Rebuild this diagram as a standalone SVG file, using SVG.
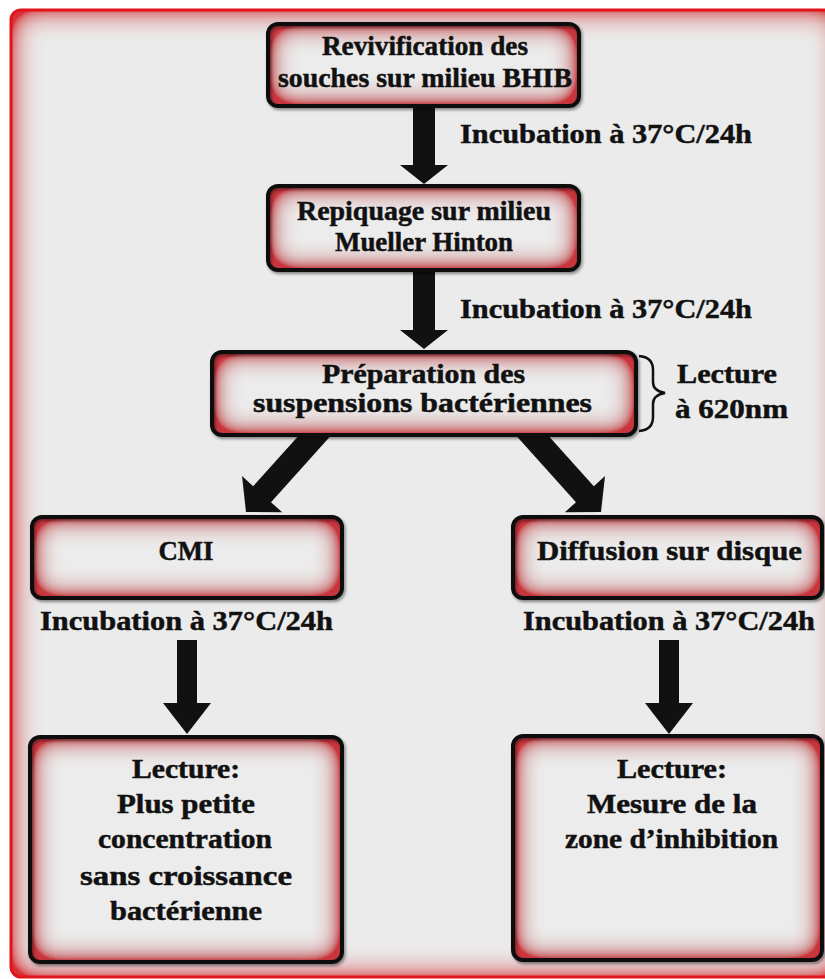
<svg xmlns="http://www.w3.org/2000/svg" width="825" height="979" viewBox="0 0 825 979">
  <defs>
    <style>
      .t { font-family: "Liberation Serif", "DejaVu Serif", serif; font-weight: bold; font-size: 28px; fill: #111; stroke: #111; stroke-width: 0.5; }
      .m { text-anchor: middle; }
      .border { fill: none; stroke: #111; stroke-width: 4; }
      .arrow { fill: #111; }
    </style>
    <!-- inner red glow for the step boxes -->
    <filter id="nodeGlow" x="-25%" y="-80%" width="150%" height="260%">
      <feComponentTransfer in="SourceAlpha" result="inv">
        <feFuncA type="table" tableValues="1 0"/>
      </feComponentTransfer>
      <feGaussianBlur in="inv" stdDeviation="14" result="blur"/>
      <feComponentTransfer in="blur" result="boost">
        <feFuncA type="linear" slope="2.2"/>
      </feComponentTransfer>
      <feFlood flood-color="#c8343c" result="red"/>
      <feComposite in="red" in2="boost" operator="in" result="redBlur"/>
      <feComposite in="redBlur" in2="SourceAlpha" operator="in" result="glow"/>
      <feMerge>
        <feMergeNode in="SourceGraphic"/>
        <feMergeNode in="glow"/>
      </feMerge>
    </filter>
    <!-- softer glow for the outer frame -->
    <filter id="frameGlow" x="-10%" y="-10%" width="120%" height="120%">
      <feComponentTransfer in="SourceAlpha" result="inv">
        <feFuncA type="table" tableValues="1 0"/>
      </feComponentTransfer>
      <feGaussianBlur in="inv" stdDeviation="15" result="blur"/>
      <feComponentTransfer in="blur" result="boost">
        <feFuncA type="linear" slope="1.8"/>
      </feComponentTransfer>
      <feFlood flood-color="#d83038" result="red"/>
      <feComposite in="red" in2="boost" operator="in" result="redBlur"/>
      <feComposite in="redBlur" in2="SourceAlpha" operator="in" result="glow"/>
      <feMerge>
        <feMergeNode in="SourceGraphic"/>
        <feMergeNode in="glow"/>
      </feMerge>
    </filter>
    <filter id="shadow" x="-10%" y="-10%" width="120%" height="130%">
      <feDropShadow dx="1.5" dy="2" stdDeviation="1.5" flood-color="#000" flood-opacity="0.45"/>
    </filter>
  </defs>

  <rect width="825" height="979" fill="#ffffff"/>

  <!-- outer frame -->
  <g id="frame">
    <rect x="11" y="10" width="830" height="967" rx="10" fill="#ebebeb" filter="url(#frameGlow)"/>
    <rect x="11" y="10" width="830" height="967" rx="10" fill="none" stroke="#e0141a" stroke-width="3"/>
  </g>

  <!-- connectors -->
  <g id="connectors">
    <polygon class="arrow" points="413,104 435,104 435,165 448,165 424,184 400,165 413,165"/>
    <polygon class="arrow" points="413,268 435,268 435,330 448,330 424,349 400,330 413,330"/>
    <polygon class="arrow" points="332.3,434.1 271,502.2 282.2,512.3 246,512 242,476.1 253.2,486.2 314.5,418.1"/>
    <polygon class="arrow" points="514.7,434.1 576,502.2 564.8,512.3 601,512 605,476.1 593.8,486.2 532.5,418.1"/>
    <polygon class="arrow" points="177,640 197,640 197,703 211,703 187,734 163,703 177,703"/>
    <polygon class="arrow" points="659,640 679,640 679,703 693,703 669,734 645,703 659,703"/>
    <path d="M639,356 Q653,357 653,370 L653,382 Q653,391 665,393 Q653,395 653,404 L653,417 Q653,430 639,431" fill="none" stroke="#111" stroke-width="2.5"/>
  </g>

  <!-- step boxes -->
  <g id="revivification">
    <rect x="268" y="24" width="311" height="82" rx="10" fill="#ececec" filter="url(#nodeGlow)"/>
    <rect class="border" x="268" y="24" width="311" height="82" rx="10" filter="url(#shadow)"/>
    <text class="t m" x="425" y="55" textLength="206" lengthAdjust="spacingAndGlyphs">Revivification des</text>
    <text class="t m" x="425" y="87" textLength="294" lengthAdjust="spacingAndGlyphs">souches sur milieu BHIB</text>
  </g>

  <g id="label-incubation-1">
    <text class="t" x="460" y="143" textLength="292" lengthAdjust="spacingAndGlyphs">Incubation à 37°C/24h</text>
  </g>

  <g id="repiquage">
    <rect x="268" y="186" width="311" height="84" rx="10" fill="#ececec" filter="url(#nodeGlow)"/>
    <rect class="border" x="268" y="186" width="311" height="84" rx="10" filter="url(#shadow)"/>
    <text class="t m" x="424" y="220" textLength="254" lengthAdjust="spacingAndGlyphs">Repiquage sur milieu</text>
    <text class="t m" x="424" y="251" textLength="178" lengthAdjust="spacingAndGlyphs">Mueller Hinton</text>
  </g>

  <g id="label-incubation-2">
    <text class="t" x="460" y="318" textLength="292" lengthAdjust="spacingAndGlyphs">Incubation à 37°C/24h</text>
  </g>

  <g id="preparation">
    <rect x="212" y="352" width="424" height="83" rx="10" fill="#ececec" filter="url(#nodeGlow)"/>
    <rect class="border" x="212" y="352" width="424" height="83" rx="10" filter="url(#shadow)"/>
    <text class="t m" x="423.5" y="383" textLength="203" lengthAdjust="spacingAndGlyphs">Préparation des</text>
    <text class="t m" x="422.5" y="412" textLength="339" lengthAdjust="spacingAndGlyphs">suspensions bactériennes</text>
  </g>

  <g id="label-lecture-620">
    <text class="t" x="677" y="383" textLength="100" lengthAdjust="spacingAndGlyphs">Lecture</text>
    <text class="t" x="675" y="418" textLength="113" lengthAdjust="spacingAndGlyphs">à 620nm</text>
  </g>

  <g id="cmi">
    <rect x="32" y="517" width="310" height="81" rx="10" fill="#ececec" filter="url(#nodeGlow)"/>
    <rect class="border" x="32" y="517" width="310" height="81" rx="10" filter="url(#shadow)"/>
    <text class="t m" x="186" y="560" textLength="55" lengthAdjust="spacingAndGlyphs">CMI</text>
  </g>

  <g id="diffusion">
    <rect x="513" y="517" width="309" height="81" rx="10" fill="#ececec" filter="url(#nodeGlow)"/>
    <rect class="border" x="513" y="517" width="309" height="81" rx="10" filter="url(#shadow)"/>
    <text class="t" x="537" y="560" textLength="265" lengthAdjust="spacingAndGlyphs">Diffusion sur disque</text>
  </g>

  <g id="label-incubation-3">
    <text class="t" x="40" y="630" textLength="293" lengthAdjust="spacingAndGlyphs">Incubation à 37°C/24h</text>
  </g>

  <g id="label-incubation-4">
    <text class="t" x="523" y="630" textLength="292" lengthAdjust="spacingAndGlyphs">Incubation à 37°C/24h</text>
  </g>

  <g id="lecture-cmi">
    <rect x="30" y="737" width="312" height="225" rx="10" fill="#ececec" filter="url(#nodeGlow)"/>
    <rect class="border" x="30" y="737" width="312" height="225" rx="10" filter="url(#shadow)"/>
    <text class="t m" x="186" y="778" textLength="108" lengthAdjust="spacingAndGlyphs">Lecture:</text>
    <text class="t m" x="186" y="813" textLength="138" lengthAdjust="spacingAndGlyphs">Plus petite</text>
    <text class="t m" x="185" y="848" textLength="174" lengthAdjust="spacingAndGlyphs">concentration</text>
    <text class="t m" x="186" y="885" textLength="212" lengthAdjust="spacingAndGlyphs">sans croissance</text>
    <text class="t m" x="186" y="920" textLength="152" lengthAdjust="spacingAndGlyphs">bactérienne</text>
  </g>

  <g id="lecture-diffusion">
    <rect x="513" y="736" width="309" height="224" rx="10" fill="#ececec" filter="url(#nodeGlow)"/>
    <rect class="border" x="513" y="736" width="309" height="224" rx="10" filter="url(#shadow)"/>
    <text class="t m" x="672" y="778" textLength="110" lengthAdjust="spacingAndGlyphs">Lecture:</text>
    <text class="t m" x="672" y="813" textLength="170" lengthAdjust="spacingAndGlyphs">Mesure de la</text>
    <text class="t m" x="671.5" y="848" textLength="213" lengthAdjust="spacingAndGlyphs">zone d’inhibition</text>
  </g>
</svg>
